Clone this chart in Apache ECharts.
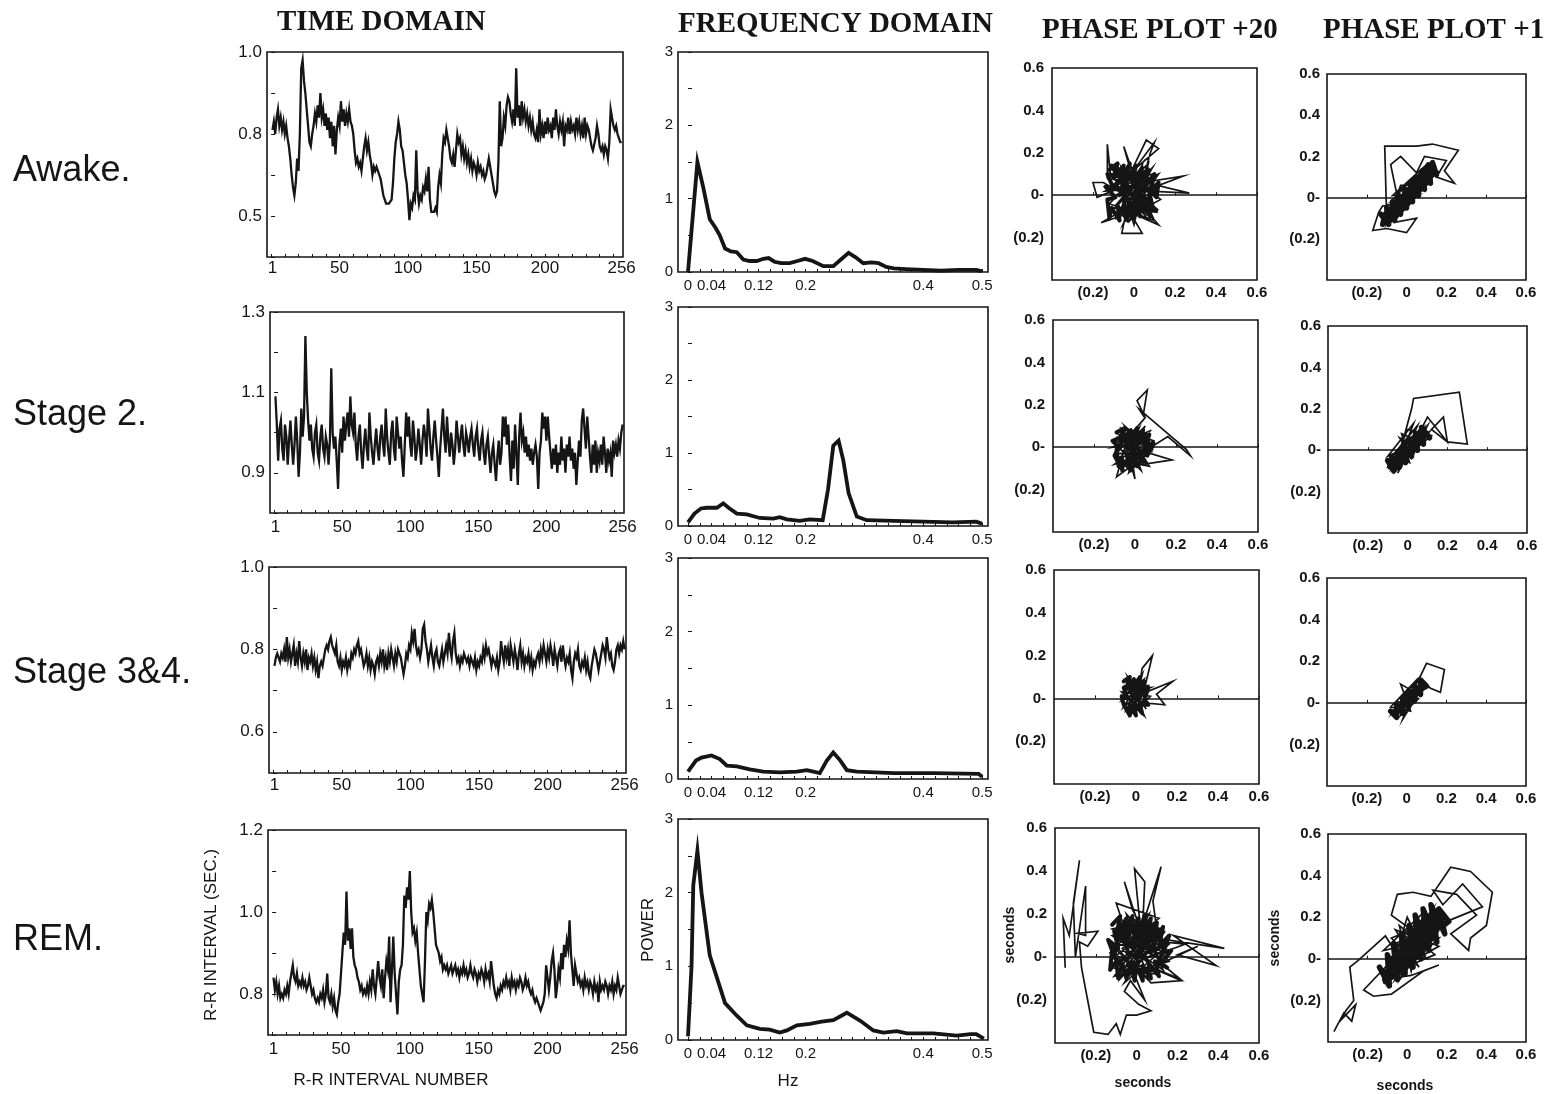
<!DOCTYPE html>
<html>
<head>
<meta charset="utf-8">
<script src="https://cdn.jsdelivr.net/npm/echarts@6/dist/echarts.min.js"></script>
<style>
  html, body { margin: 0; padding: 0; background: #fff; }
  #chart { width: 1545px; height: 1094px; }
</style>
</head>
<body>
<div id="chart"></div>
<script>
// ---- data ----
const ROW_NAMES = ['Awake.', 'Stage 2.', 'Stage 3&4.', 'REM.'];
const HEADERS = ['TIME DOMAIN', 'FREQUENCY DOMAIN', 'PHASE PLOT +20', 'PHASE PLOT +1'];

// R-R interval number ticks
const INDEX_TICKS = [1, 50, 100, 150, 200, 256];

// R-R intervals (sec), 256 beats per stage
const awakeRR = [
  0.81,0.83,0.80,0.84,0.86,0.82,0.84,0.81,0.83,0.80,0.82,0.79,0.77,0.74,0.70,0.67,
  0.65,0.68,0.74,0.71,0.80,0.96,0.98,0.93,0.90,0.86,0.82,0.78,0.77,0.80,0.82,0.85,
  0.83,0.87,0.84,0.90,0.84,0.86,0.82,0.85,0.81,0.84,0.79,0.83,0.77,0.82,0.75,0.81,
  0.84,0.82,0.88,0.83,0.86,0.82,0.85,0.83,0.86,0.83,0.82,0.80,0.76,0.73,0.74,0.72,
  0.73,0.71,0.74,0.77,0.79,0.76,0.78,0.75,0.73,0.70,0.72,0.71,0.72,0.71,0.70,0.69,
  0.67,0.65,0.64,0.63,0.63,0.63,0.63,0.64,0.68,0.74,0.78,0.80,0.83,0.81,0.77,0.76,
  0.73,0.70,0.68,0.64,0.59,0.63,0.62,0.65,0.64,0.76,0.66,0.63,0.65,0.64,0.67,0.66,
  0.69,0.66,0.72,0.64,0.61,0.61,0.61,0.62,0.61,0.67,0.70,0.68,0.75,0.79,0.78,0.81,
  0.81,0.77,0.74,0.73,0.75,0.72,0.76,0.80,0.78,0.79,0.75,0.77,0.74,0.76,0.73,0.75,
  0.72,0.74,0.71,0.73,0.72,0.70,0.73,0.71,0.72,0.70,0.71,0.69,0.70,0.72,0.74,0.72,
  0.70,0.68,0.66,0.65,0.66,0.73,0.88,0.77,0.79,0.84,0.82,0.87,0.89,0.88,0.85,0.83,
  0.86,0.82,0.96,0.84,0.87,0.82,0.88,0.84,0.86,0.83,0.85,0.82,0.84,0.81,0.83,0.80,
  0.79,0.81,0.78,0.86,0.80,0.82,0.79,0.83,0.80,0.84,0.81,0.82,0.79,0.84,0.81,0.86,
  0.82,0.80,0.83,0.81,0.83,0.77,0.82,0.81,0.84,0.80,0.83,0.81,0.82,0.80,0.84,0.81,
  0.83,0.80,0.82,0.79,0.84,0.80,0.82,0.81,0.79,0.77,0.76,0.76,0.79,0.82,0.80,0.77,
  0.76,0.77,0.75,0.77,0.76,0.74,0.78,0.86,0.84,0.82,0.81,0.82,0.80,0.79,0.78,0.78
];
const stage2RR = [
  1.09,1.02,0.93,1.01,1.03,0.96,0.93,1.02,0.99,0.92,0.98,1.03,0.97,0.92,0.97,1.04,
  0.98,0.89,0.95,1.06,0.99,1.04,1.24,1.10,1.03,0.98,1.02,0.96,0.94,1.00,1.02,0.95,
  0.93,0.99,1.02,0.96,0.94,0.99,0.97,0.92,0.98,1.16,1.00,0.96,0.99,0.93,0.86,0.97,
  1.01,0.95,1.04,0.98,1.02,1.05,0.99,1.09,1.02,1.00,1.05,0.97,0.93,0.99,1.02,0.95,
  0.91,0.97,1.01,0.96,0.93,1.05,0.99,0.95,0.92,0.97,1.01,0.96,0.93,0.99,1.02,0.97,
  0.94,1.06,0.99,0.95,0.92,1.00,1.03,0.96,0.93,1.04,1.00,0.96,0.99,0.93,0.89,0.97,
  1.05,0.99,1.04,0.97,0.94,1.03,0.99,0.93,0.96,1.01,0.97,0.92,0.98,1.02,0.99,0.94,
  1.06,1.01,0.96,0.93,0.99,1.03,0.98,0.94,0.89,0.96,1.01,1.06,0.99,0.95,1.04,0.98,
  0.94,1.00,0.97,0.92,0.96,1.03,0.99,0.95,0.99,1.02,0.97,0.94,1.00,0.98,0.95,0.99,
  1.01,0.97,0.94,0.99,1.01,0.96,0.93,0.98,1.00,0.95,0.92,0.97,0.99,0.94,0.90,0.95,
  0.97,0.92,0.88,0.94,0.98,0.92,0.95,1.04,0.99,1.04,0.97,1.02,0.94,0.88,0.98,0.91,
  1.02,0.95,0.87,0.99,1.05,0.98,1.00,0.95,0.99,0.94,0.97,0.93,0.96,0.92,0.95,0.97,
  0.94,0.86,0.95,0.98,1.05,1.01,1.04,0.98,1.04,0.99,0.95,0.91,0.96,0.92,0.97,0.90,
  0.95,0.92,0.99,0.93,0.96,0.90,0.97,0.94,0.99,0.93,0.96,0.91,0.95,0.87,0.93,0.98,
  0.94,1.03,1.06,1.01,0.96,1.04,0.99,0.94,0.90,0.97,0.92,0.98,0.90,0.95,0.93,0.97,
  0.92,0.99,0.95,0.90,0.96,0.93,0.95,0.89,0.98,0.95,0.97,0.94,0.98,0.96,1.00,1.02
];
const stage34RR = [
  0.76,0.78,0.79,0.78,0.77,0.79,0.78,0.80,0.77,0.83,0.78,0.80,0.77,0.79,0.81,0.76,
  0.79,0.77,0.82,0.78,0.76,0.79,0.77,0.80,0.75,0.78,0.77,0.79,0.76,0.78,0.75,0.77,
  0.73,0.76,0.77,0.76,0.78,0.80,0.81,0.80,0.82,0.83,0.81,0.80,0.79,0.81,0.77,0.76,
  0.78,0.75,0.77,0.76,0.78,0.75,0.77,0.76,0.79,0.78,0.80,0.79,0.81,0.82,0.79,0.80,
  0.78,0.76,0.77,0.79,0.76,0.78,0.75,0.77,0.76,0.74,0.77,0.78,0.76,0.79,0.77,0.80,
  0.76,0.78,0.75,0.79,0.77,0.80,0.78,0.76,0.79,0.77,0.80,0.79,0.78,0.76,0.74,0.76,
  0.79,0.78,0.81,0.80,0.84,0.82,0.85,0.81,0.79,0.80,0.78,0.80,0.85,0.86,0.82,0.80,
  0.77,0.79,0.81,0.78,0.76,0.79,0.80,0.77,0.76,0.78,0.80,0.77,0.79,0.81,0.79,0.84,
  0.80,0.78,0.82,0.84,0.79,0.77,0.78,0.76,0.78,0.77,0.79,0.78,0.77,0.78,0.76,0.78,
  0.77,0.76,0.78,0.75,0.77,0.76,0.78,0.77,0.80,0.78,0.81,0.79,0.80,0.78,0.76,0.78,
  0.77,0.76,0.78,0.75,0.77,0.82,0.79,0.77,0.81,0.78,0.80,0.76,0.81,0.79,0.77,0.80,
  0.78,0.75,0.79,0.81,0.77,0.79,0.76,0.78,0.77,0.79,0.76,0.78,0.75,0.77,0.76,0.78,
  0.79,0.77,0.80,0.78,0.81,0.79,0.77,0.80,0.78,0.81,0.79,0.76,0.80,0.78,0.76,0.79,
  0.80,0.77,0.81,0.78,0.76,0.78,0.77,0.79,0.75,0.73,0.77,0.79,0.78,0.80,0.76,0.75,
  0.77,0.76,0.78,0.75,0.77,0.74,0.73,0.76,0.78,0.80,0.79,0.77,0.75,0.77,0.79,0.81,
  0.80,0.78,0.83,0.80,0.78,0.79,0.76,0.75,0.77,0.80,0.81,0.79,0.81,0.80,0.82,0.80
];
const remRR = [
  0.84,0.81,0.83,0.80,0.82,0.79,0.80,0.79,0.81,0.80,0.82,0.80,0.83,0.85,0.87,0.84,
  0.83,0.85,0.82,0.83,0.82,0.84,0.82,0.83,0.81,0.82,0.84,0.82,0.80,0.81,0.79,0.78,
  0.79,0.78,0.80,0.79,0.81,0.78,0.80,0.85,0.79,0.78,0.80,0.77,0.79,0.76,0.75,0.78,
  0.80,0.85,0.90,0.95,0.92,1.05,0.93,0.96,0.91,0.96,0.89,0.87,0.86,0.84,0.83,0.81,
  0.82,0.80,0.81,0.80,0.82,0.80,0.83,0.81,0.86,0.82,0.80,0.84,0.88,0.84,0.82,0.86,
  0.79,0.84,0.88,0.86,0.94,0.78,0.86,0.94,0.85,0.80,0.75,0.83,0.86,0.87,0.92,1.04,
  1.01,1.06,1.03,1.10,1.00,0.95,0.96,0.93,0.95,0.90,0.86,0.82,0.80,0.78,0.88,1.00,
  0.98,1.02,1.01,1.03,1.00,0.96,0.92,0.91,0.90,0.88,0.89,0.86,0.87,0.86,0.87,0.85,
  0.86,0.87,0.85,0.86,0.87,0.85,0.86,0.84,0.86,0.85,0.87,0.85,0.86,0.84,0.85,0.87,
  0.85,0.84,0.86,0.85,0.83,0.85,0.84,0.86,0.85,0.83,0.86,0.84,0.85,0.83,0.88,0.85,
  0.82,0.80,0.79,0.81,0.80,0.82,0.81,0.83,0.82,0.84,0.82,0.83,0.81,0.84,0.82,0.83,
  0.81,0.83,0.82,0.84,0.83,0.81,0.82,0.84,0.82,0.83,0.81,0.80,0.81,0.79,0.78,0.79,
  0.78,0.77,0.76,0.77,0.78,0.80,0.87,0.84,0.81,0.84,0.88,0.90,0.86,0.79,0.82,0.86,
  0.84,0.90,0.86,0.92,0.89,0.93,0.91,0.98,0.90,0.86,0.82,0.87,0.85,0.83,0.84,0.82,
  0.83,0.81,0.84,0.82,0.83,0.81,0.83,0.82,0.80,0.83,0.81,0.82,0.78,0.83,0.81,0.82,
  0.81,0.83,0.82,0.80,0.82,0.81,0.83,0.80,0.82,0.81,0.84,0.82,0.80,0.81,0.82,0.82
];

// time-domain y ticks: positions and the text printed there
const awakeYTicks = [1.0, 0.8, 0.6];   const awakeYLabels = ['1.0', '0.8', '0.5'];
const stage2YTicks = [1.3, 1.1, 0.9];  const stage2YLabels = ['1.3', '1.1', '0.9'];
const stage34YTicks = [1.0, 0.8, 0.6]; const stage34YLabels = ['1.0', '0.8', '0.6'];
const remYTicks = [1.2, 1.0, 0.8];     const remYLabels = ['1.2', '1.0', '0.8'];

// spectra: [Hz, power]
const FREQ_TICKS = [0, 0.04, 0.12, 0.2, 0.4, 0.5];
const POWER_TICKS = [0, 1, 2, 3];
const awakeSpectrum = [[0,0],[0.016,1.5],[0.026,1.15],[0.037,0.72],[0.047,0.6],[0.054,0.5],[0.063,0.32],[0.073,0.28],[0.083,0.27],[0.094,0.17],[0.105,0.15],[0.117,0.15],[0.128,0.18],[0.137,0.19],[0.147,0.14],[0.158,0.12],[0.173,0.12],[0.186,0.15],[0.199,0.18],[0.212,0.15],[0.23,0.08],[0.247,0.08],[0.26,0.17],[0.273,0.26],[0.285,0.2],[0.298,0.12],[0.312,0.13],[0.324,0.12],[0.337,0.07],[0.35,0.05],[0.37,0.04],[0.4,0.03],[0.43,0.02],[0.46,0.03],[0.49,0.03],[0.5,0.01]];
const stage2Spectrum = [[0,0.05],[0.011,0.17],[0.022,0.24],[0.032,0.25],[0.049,0.25],[0.06,0.31],[0.069,0.25],[0.083,0.17],[0.1,0.16],[0.122,0.11],[0.145,0.1],[0.156,0.12],[0.168,0.09],[0.19,0.07],[0.207,0.09],[0.229,0.08],[0.238,0.5],[0.247,1.1],[0.256,1.17],[0.264,0.9],[0.273,0.45],[0.287,0.13],[0.304,0.08],[0.35,0.07],[0.4,0.06],[0.45,0.05],[0.49,0.06],[0.5,0.03]];
const stage34Spectrum = [[0,0.1],[0.0135,0.25],[0.023,0.29],[0.04,0.32],[0.054,0.27],[0.066,0.18],[0.083,0.17],[0.105,0.13],[0.128,0.1],[0.156,0.09],[0.185,0.1],[0.202,0.12],[0.213,0.1],[0.224,0.08],[0.236,0.25],[0.247,0.36],[0.259,0.25],[0.27,0.12],[0.287,0.1],[0.35,0.08],[0.42,0.08],[0.494,0.07],[0.5,0.03]];
const remSpectrum = [[0,0.05],[0.006,1.0],[0.009,2.1],[0.016,2.57],[0.023,2.0],[0.032,1.45],[0.037,1.15],[0.049,0.85],[0.063,0.5],[0.083,0.33],[0.1,0.2],[0.122,0.15],[0.139,0.14],[0.156,0.1],[0.168,0.13],[0.185,0.2],[0.207,0.22],[0.227,0.25],[0.247,0.27],[0.27,0.37],[0.293,0.26],[0.315,0.13],[0.332,0.1],[0.355,0.12],[0.372,0.09],[0.417,0.09],[0.457,0.06],[0.48,0.08],[0.49,0.08],[0.503,0.02]];

// phase plots: [x, y] in seconds (outer excursions, then the dense core)
const PHASE_X_TICKS = [-0.2, 0, 0.2, 0.4, 0.6];
const PHASE_X_LABELS = ['(0.2)', '0', '0.2', '0.4', '0.6'];
const PHASE_Y_TICKS = [0.6, 0.4, 0.2, 0, -0.2];
const PHASE_Y_LABELS = ['0.6', '0.4', '0.2', '0-', '(0.2)'];

const awakeLag20 = [[-0.05,0.02],[0.08,-0.06],[-0.12,0.10],[0.10,0.08],[-0.08,-0.10],[0.04,0.14],[-0.02,-0.12],[0.12,0.04],[-0.14,0.02],[0.06,0.12],[-0.10,-0.06],[0.11,-0.08],[-0.06,0.13],[0.02,-0.09],[-0.13,0.08],[-0.13,0.24],[-0.11,0.05],[0.09,0.10],[-0.04,-0.11],[0.13,-0.02],[-0.09,0.14],[0.00,-0.14],[0.07,0.15],[-0.12,-0.04],[0.10,-0.12],[-0.03,0.16],[-0.05,0.23],[-0.01,0.12],[0.06,0.26],[0.12,0.22],[0.00,0.12],[0.10,0.25],[0.08,0.20],[0.04,0.06],[0.24,0.09],[0.05,0.02],[0.27,0.01],[0.10,0.05],[-0.07,-0.08],[-0.16,-0.13],[-0.04,-0.09],[-0.06,-0.18],[0.04,-0.18],[-0.02,-0.08],[0.12,-0.14],[0.03,-0.04],[-0.15,0.06],[-0.20,0.06],[-0.18,-0.01],[-0.08,0.03],[0.06,-0.10],[-0.10,0.12],[0.11,0.01],[-0.07,-0.03],[0.03,0.10],[-0.12,-0.09],[0.09,0.13],[-0.02,-0.06],[0.08,-0.03],[-0.09,0.07],[0.05,0.09],[-0.05,-0.13],[0.12,0.10],[-0.11,-0.01],[0.02,0.04]];
const awakeLag20Core = [[-0.12,0.12],[-0.08,0.15],[-0.10,0.08],[-0.05,0.14],[-0.07,0.06],[-0.02,0.15],[-0.04,0.07],[0.01,0.14],[-0.01,0.06],[0.04,0.13],[0.02,0.05],[0.07,0.12],[0.05,0.04],[0.10,0.10],[0.08,0.02],[0.12,0.06],[0.11,-0.01],[0.07,0.03],[0.09,-0.05],[0.04,0.0],[0.06,-0.07],[0.01,-0.02],[0.03,-0.10],[-0.02,-0.03],[0.0,-0.11],[-0.05,-0.04],[-0.03,-0.12],[-0.08,-0.05],[-0.07,-0.12],[-0.11,-0.06],[-0.12,-0.11],[-0.13,-0.02],[-0.09,-0.01],[-0.14,0.04],[-0.10,0.03],[-0.13,0.10],[-0.08,0.09],[-0.11,0.14],[-0.06,0.10],[-0.03,0.03],[-0.07,0.0],[-0.02,0.09],[0.03,0.08],[0.0,0.0],[0.05,0.09],[0.08,0.07],[0.03,0.02],[0.10,0.03],[0.06,-0.03],[0.11,-0.07],[0.02,-0.06],[-0.01,-0.08],[-0.06,-0.08],[-0.04,-0.01],[-0.09,0.05],[-0.04,0.11],[0.02,0.10],[0.0,0.04],[-0.06,0.04],[0.04,-0.04],[0.08,-0.10],[-0.02,0.01]];
const stage2Lag20 = [[-0.02,0.0],[0.06,-0.08],[-0.08,0.06],[0.07,0.05],[-0.06,-0.10],[0.02,0.09],[-0.09,-0.03],[0.08,-0.02],[-0.04,0.08],[0.03,-0.11],[-0.10,0.02],[0.06,0.07],[-0.05,-0.07],[0.09,0.03],[-0.07,0.09],[0.00,-0.15],[-0.03,0.05],[0.05,0.14],[0.01,0.22],[0.06,0.27],[0.04,0.15],[0.02,0.18],[0.25,-0.01],[0.27,-0.04],[0.16,0.05],[0.03,-0.03],[-0.09,0.05],[0.05,-0.06],[-0.06,0.01],[0.18,-0.06],[-0.02,-0.09],[-0.09,-0.14],[-0.04,0.03],[0.08,0.08],[-0.11,0.00],[0.04,0.02],[-0.05,0.10],[0.07,-0.09],[-0.08,-0.06],[0.02,0.06],[-0.03,-0.12],[0.09,0.00],[-0.07,0.07],[0.01,-0.05],[-0.10,-0.08],[0.06,0.04],[-0.02,0.08],[0.03,-0.08],[-0.06,-0.02],[0.05,0.10],[-0.04,-0.05],[0.00,0.03]];
const stage2Lag20Core = [[-0.09,0.07],[-0.05,0.09],[-0.07,0.03],[-0.02,0.08],[-0.04,0.02],[0.01,0.09],[-0.01,0.03],[0.04,0.08],[0.02,0.02],[0.07,0.06],[0.05,0.0],[0.09,0.02],[0.06,-0.04],[0.02,-0.01],[0.04,-0.07],[-0.01,-0.03],[0.01,-0.09],[-0.04,-0.04],[-0.02,-0.11],[-0.07,-0.05],[-0.06,-0.11],[-0.10,-0.04],[-0.08,0.0],[-0.11,0.03],[-0.06,0.05],[-0.03,-0.01],[0.0,0.05],[0.03,0.04],[0.06,0.03],[0.03,-0.04],[0.0,-0.06],[-0.05,-0.08],[-0.08,-0.09],[-0.09,-0.01],[-0.04,0.06],[0.02,0.07],[0.05,0.06],[0.08,-0.01],[0.04,-0.02],[-0.02,0.0]];
const stage34Lag20 = [[0.0,0.02],[0.05,-0.05],[-0.05,0.08],[0.06,0.06],[-0.06,-0.04],[0.03,0.11],[-0.02,-0.07],[0.07,0.01],[-0.07,0.03],[0.04,-0.08],[-0.04,0.10],[0.06,-0.02],[-0.05,-0.06],[0.02,0.08],[0.03,0.14],[0.08,0.20],[0.06,0.12],[0.04,0.04],[-0.06,0.06],[0.05,0.03],[0.18,0.08],[0.10,0.02],[0.14,-0.03],[0.03,-0.02],[-0.03,-0.08],[0.00,0.07],[-0.07,-0.01],[0.07,0.05],[-0.03,0.04],[0.02,-0.06],[-0.05,0.02],[0.04,0.09],[-0.01,-0.04],[0.05,0.00],[-0.04,0.07],[0.01,0.01]];
const stage34Lag20Core = [[-0.06,0.08],[-0.03,0.10],[-0.05,0.04],[-0.01,0.09],[-0.03,0.03],[0.02,0.10],[0.0,0.03],[0.04,0.08],[0.02,0.02],[0.06,0.05],[0.04,-0.01],[0.06,-0.03],[0.02,-0.03],[0.03,-0.07],[-0.01,-0.02],[0.0,-0.08],[-0.03,-0.03],[-0.03,-0.08],[-0.06,-0.03],[-0.07,0.01],[-0.04,0.0],[-0.06,0.05],[-0.02,0.05],[0.01,0.06],[0.04,0.04],[0.01,-0.01],[-0.02,0.01]];
const remLag20 = [[-0.35,-0.05],[-0.36,0.18],[-0.33,0.10],[-0.28,0.45],[-0.31,0.25],[-0.30,0.0],[-0.25,0.33],[-0.25,0.10],[-0.29,0.11],[-0.19,0.12],[-0.24,0.05],[-0.28,0.07],[-0.27,-0.05],[-0.24,-0.20],[-0.21,-0.35],[-0.14,-0.36],[-0.10,-0.31],[-0.08,-0.36],[-0.05,-0.27],[0.0,-0.27],[0.07,-0.25],[0.01,-0.22],[-0.06,-0.16],[-0.03,-0.11],[0.04,-0.20],[-0.02,-0.06],[0.12,0.10],[-0.12,-0.05],[0.10,-0.08],[-0.08,0.16],[0.14,0.04],[-0.13,0.06],[0.06,-0.11],[-0.05,0.20],[0.16,-0.02],[-0.11,-0.09],[0.08,0.15],[-0.12,0.10],[0.13,-0.06],[-0.02,0.22],[-0.06,0.35],[0.02,0.12],[-0.01,0.41],[0.04,0.35],[0.03,0.15],[0.12,0.42],[0.08,0.26],[0.10,0.12],[-0.09,-0.02],[0.15,0.08],[0.43,0.04],[0.18,0.10],[0.39,-0.04],[0.20,0.01],[0.30,0.05],[0.12,-0.03],[0.21,-0.10],[0.05,-0.04],[0.22,-0.11],[0.07,-0.12],[-0.07,0.04],[0.11,0.18],[-0.10,0.25],[-0.04,0.08],[0.09,-0.07],[-0.13,0.02],[0.06,0.20],[-0.08,-0.10],[0.14,0.12],[-0.03,-0.08],[0.05,0.17],[-0.12,0.13],[0.10,0.02],[-0.06,-0.05],[0.08,0.09],[-0.10,0.05],[0.02,-0.09],[-0.04,0.14],[0.12,-0.01],[-0.09,0.09],[0.04,0.04],[-0.06,-0.12],[0.16,0.06],[-0.02,0.18],[0.07,-0.06],[-0.11,0.00],[0.09,0.14],[-0.05,0.10],[0.01,-0.02],[0.24,0.06],[0.03,0.08]];
const remLag20Core = [[-0.12,0.15],[-0.08,0.19],[-0.10,0.10],[-0.05,0.18],[-0.08,0.08],[-0.02,0.19],[-0.05,0.09],[0.01,0.18],[-0.01,0.08],[0.04,0.19],[0.02,0.09],[0.07,0.18],[0.05,0.08],[0.10,0.16],[0.08,0.07],[0.13,0.14],[0.11,0.05],[0.16,0.10],[0.13,0.02],[0.17,0.03],[0.12,-0.03],[0.15,-0.05],[0.09,-0.02],[0.11,-0.09],[0.06,-0.03],[0.07,-0.10],[0.03,-0.04],[0.03,-0.11],[0.0,-0.04],[-0.01,-0.11],[-0.03,-0.03],[-0.05,-0.10],[-0.07,-0.03],[-0.09,-0.10],[-0.10,-0.02],[-0.13,-0.06],[-0.12,0.03],[-0.14,0.08],[-0.09,0.04],[-0.11,0.12],[-0.06,0.13],[-0.03,0.05],[0.0,0.13],[0.02,0.03],[0.05,0.13],[0.07,0.02],[0.10,0.10],[0.12,0.08],[0.08,0.12],[0.04,0.05],[0.0,0.0],[-0.04,0.02],[-0.07,0.10],[-0.02,0.14],[0.03,0.15],[0.06,0.05],[0.09,0.03],[0.14,0.06],[0.10,-0.05],[0.05,-0.07],[-0.02,-0.07],[-0.06,-0.06],[-0.11,0.00],[-0.08,0.14],[0.06,0.16],[0.12,0.12]];

const awakeLag1 = [[-0.10,-0.10],[-0.11,0.25],[0.05,0.25],[0.13,0.26],[0.26,0.23],[0.19,0.13],[0.24,0.07],[0.15,0.10],[0.20,0.18],[0.09,0.20],[0.05,0.12],[-0.03,0.20],[-0.08,0.16],[-0.05,0.02],[0.10,0.14],[0.02,-0.02],[-0.12,-0.04],[-0.14,-0.07],[-0.17,-0.16],[-0.10,-0.15],[0.0,-0.17],[0.05,-0.10],[-0.06,-0.12],[0.04,0.06],[-0.09,-0.06],[0.08,0.12],[-0.04,-0.09],[0.12,0.08],[-0.02,0.04],[0.06,0.02],[-0.07,0.01],[0.10,0.16],[-0.11,-0.11],[0.03,0.08],[-0.05,-0.03],[0.14,0.12],[-0.08,-0.09],[0.07,0.10],[-0.12,-0.08],[0.01,-0.04],[0.09,0.06],[-0.03,0.06],[-0.10,-0.13],[0.05,0.05],[-0.06,-0.06],[0.11,0.14],[-0.01,-0.01],[0.04,0.10],[-0.08,-0.02],[0.08,0.04],[-0.04,0.0],[0.13,0.16],[-0.09,-0.12],[0.02,0.02],[0.16,0.13],[-0.02,-0.06],[0.06,0.08]];
const awakeLag1Core = [[-0.13,-0.08],[-0.09,-0.13],[-0.10,-0.05],[-0.06,-0.11],[-0.07,-0.02],[-0.03,-0.08],[-0.04,0.01],[0.0,-0.05],[-0.01,0.04],[0.03,-0.02],[0.02,0.07],[0.06,0.01],[0.05,0.10],[0.09,0.04],[0.08,0.13],[0.12,0.07],[0.11,0.16],[0.15,0.11],[0.13,0.17],[0.10,0.09],[0.07,0.11],[0.07,0.05],[0.04,0.07],[0.04,0.02],[0.01,0.03],[0.01,-0.02],[-0.02,0.0],[-0.02,-0.05],[-0.05,-0.03],[-0.05,-0.08],[-0.08,-0.06],[-0.08,-0.11],[-0.11,-0.09],[-0.12,-0.13],[-0.10,-0.10],[-0.06,-0.05],[-0.03,-0.02],[0.0,0.01],[0.03,0.04],[0.06,0.07],[0.09,0.10],[0.12,0.12],[0.10,0.14],[0.05,0.06],[0.0,-0.01],[-0.05,-0.06],[-0.09,-0.08]];
const stage2Lag1 = [[-0.05,-0.05],[0.02,0.20],[0.03,0.25],[0.26,0.28],[0.30,0.03],[0.20,0.04],[0.12,0.10],[0.18,0.16],[0.20,0.04],[0.10,0.16],[0.04,0.05],[-0.08,-0.06],[0.06,0.10],[-0.04,-0.08],[0.09,0.06],[-0.10,-0.03],[0.03,0.13],[-0.06,-0.10],[0.11,0.09],[-0.02,0.02],[-0.09,-0.07],[0.07,0.04],[-0.03,0.08],[0.01,-0.06],[-0.07,-0.02],[0.05,0.12],[-0.05,-0.11],[0.08,0.11],[-0.01,0.04],[-0.08,-0.09],[0.12,0.07],[0.0,0.10],[-0.06,-0.04],[0.04,0.01],[-0.04,0.06],[0.02,-0.04],[0.10,0.12],[-0.07,-0.07],[0.06,0.07],[-0.02,-0.02]];
const stage2Lag1Core = [[-0.10,-0.05],[-0.07,-0.10],[-0.08,-0.03],[-0.04,-0.08],[-0.05,-0.01],[-0.01,-0.06],[-0.02,0.02],[0.02,-0.03],[0.01,0.05],[0.05,0.0],[0.04,0.08],[0.08,0.03],[0.07,0.11],[0.11,0.06],[0.09,0.08],[0.06,0.05],[0.03,0.03],[0.0,0.0],[-0.03,-0.03],[-0.06,-0.06],[-0.09,-0.08],[-0.07,-0.04],[-0.04,-0.04],[-0.01,0.0],[0.02,0.01],[0.05,0.05],[0.08,0.08],[0.04,0.03],[-0.02,-0.04],[-0.06,-0.08]];
const stage34Lag1 = [[0.0,0.0],[0.07,0.13],[0.10,0.19],[0.19,0.16],[0.17,0.05],[0.12,0.07],[0.08,0.10],[-0.05,-0.03],[0.04,0.08],[-0.07,-0.05],[0.06,0.04],[-0.03,0.09],[0.02,-0.04],[-0.08,-0.02],[0.05,0.11],[-0.02,-0.08],[0.09,0.09],[-0.04,0.02],[0.03,0.06],[-0.06,-0.06],[0.07,0.07],[-0.01,0.04],[0.01,-0.02],[-0.05,0.01],[0.04,0.09],[-0.03,-0.06],[0.06,0.02],[0.0,0.05]];
const stage34Lag1Core = [[-0.08,-0.04],[-0.05,-0.07],[-0.05,-0.01],[-0.02,-0.05],[-0.02,0.02],[0.01,-0.02],[0.01,0.05],[0.04,0.01],[0.04,0.08],[0.07,0.04],[0.07,0.11],[0.10,0.08],[0.08,0.07],[0.05,0.05],[0.02,0.02],[-0.01,-0.01],[-0.04,-0.04],[-0.07,-0.05],[-0.03,-0.02],[0.0,0.01],[0.03,0.04],[0.06,0.07]];
const remLag1 = [[-0.37,-0.35],[-0.32,-0.26],[-0.28,-0.30],[-0.26,-0.22],[-0.34,-0.30],[-0.31,-0.25],[-0.27,-0.20],[-0.29,-0.04],[-0.25,-0.01],[-0.18,0.05],[-0.11,0.11],[-0.05,0.02],[-0.22,-0.15],[-0.17,-0.18],[-0.08,-0.17],[0.08,-0.06],[0.16,-0.03],[0.02,-0.08],[-0.12,-0.10],[0.05,0.12],[-0.08,0.21],[-0.05,0.31],[0.03,0.32],[0.12,0.30],[0.22,0.44],[0.32,0.42],[0.43,0.32],[0.40,0.16],[0.32,0.10],[0.31,0.04],[0.22,0.12],[0.35,0.21],[0.25,0.31],[0.13,0.33],[0.18,0.26],[0.28,0.36],[0.38,0.25],[0.20,0.18],[-0.10,-0.02],[0.12,0.20],[-0.06,-0.10],[0.16,0.10],[-0.12,0.04],[0.08,0.22],[0.02,-0.06],[-0.04,0.16],[0.14,0.02],[-0.11,-0.08],[0.10,0.16],[-0.02,0.08],[0.06,-0.04],[-0.08,0.10],[0.18,0.20],[-0.05,-0.05],[0.04,0.18],[0.12,0.06],[-0.09,0.00],[0.07,0.13],[-0.03,-0.09],[0.15,0.15],[-0.07,0.07],[0.09,0.02],[0.00,0.20],[-0.10,-0.12],[0.11,0.11],[0.02,0.02],[-0.06,0.14],[0.16,0.06],[-0.01,-0.03],[0.08,0.18],[-0.11,-0.04],[0.05,0.08],[0.13,0.24],[-0.04,0.03],[0.10,0.00],[-0.02,0.12],[0.06,0.05]];
const remLag1Core = [[-0.14,-0.04],[-0.09,-0.13],[-0.10,0.02],[-0.05,-0.10],[-0.07,0.07],[-0.01,-0.07],[-0.03,0.12],[0.03,-0.04],[0.01,0.16],[0.07,0.0],[0.04,0.21],[0.11,0.04],[0.08,0.24],[0.15,0.08],[0.12,0.26],[0.19,0.12],[0.16,0.24],[0.21,0.18],[0.17,0.15],[0.13,0.18],[0.12,0.10],[0.08,0.15],[0.08,0.06],[0.04,0.11],[0.04,0.02],[0.0,0.07],[0.0,-0.02],[-0.04,0.03],[-0.04,-0.06],[-0.08,-0.01],[-0.08,-0.09],[-0.12,-0.06],[-0.11,-0.11],[-0.06,-0.04],[-0.02,0.0],[0.02,0.05],[0.06,0.10],[0.10,0.14],[0.14,0.20],[0.10,0.20],[0.06,0.16],[0.02,0.10],[-0.02,0.05],[-0.06,0.01],[0.02,-0.01],[0.06,0.03],[0.10,0.07],[0.14,0.12],[0.18,0.20]];

// ---- layout ----
const INK = '#151515';
const SANS = '"Liberation Sans", Arial, sans-serif';
const SERIF = '"Liberation Serif", "Times New Roman", serif';

const TIME_BOX  = [[267, 52, 623, 257], [270, 312, 624, 513], [269, 567, 626, 773], [268, 830, 626, 1035]];
const FREQ_BOX  = [[678, 52, 988, 272], [678, 307, 988, 526], [678, 558, 988, 779], [678, 819, 988, 1040]];
const LAG20_BOX = [[1052, 68, 1257, 280], [1053, 320, 1258, 532], [1054, 570, 1259, 784], [1055, 828, 1259, 1043]];
const LAG1_BOX  = [[1327, 74, 1526, 280], [1328, 326, 1527, 533], [1327, 578, 1526, 786], [1328, 834, 1526, 1042]];

const TIME_XMARGIN = [3, 6, 4, 6];

const timeRows = [
  { rr: awakeRR, min: 0.5, max: 1.0, yt: awakeYTicks, yl: awakeYLabels },
  { rr: stage2RR, min: 0.8, max: 1.3, yt: stage2YTicks, yl: stage2YLabels },
  { rr: stage34RR, min: 0.5, max: 1.0, yt: stage34YTicks, yl: stage34YLabels },
  { rr: remRR, min: 0.7, max: 1.2, yt: remYTicks, yl: remYLabels }
];
const spectra = [awakeSpectrum, stage2Spectrum, stage34Spectrum, remSpectrum];
const lag20 = [awakeLag20, stage2Lag20, stage34Lag20, remLag20];
const lag20Core = [awakeLag20Core, stage2Lag20Core, stage34Lag20Core, remLag20Core];
const lag1 = [awakeLag1, stage2Lag1, stage34Lag1, remLag1];
const lag1Core = [awakeLag1Core, stage2Lag1Core, stage34Lag1Core, remLag1Core];

const grids = [], xAxes = [], yAxes = [], series = [];

function steps(a, b, s) {
  const out = [];
  for (let v = a; v <= b + 1e-9; v += s) out.push(+v.toFixed(4));
  return out;
}
function lookup(values, texts) {
  return v => {
    const k = values.findIndex(t => Math.abs(t - v) < 1e-6);
    return k < 0 ? '' : texts[k];
  };
}
function axis(o) {
  return {
    type: 'value', gridIndex: o.grid, min: o.min, max: o.max, position: o.pos,
    axisLine: { show: false }, splitLine: { show: false },
    axisTick: { show: true, inside: true, length: o.tickLen || 4, customValues: o.ticks, lineStyle: { color: INK, width: 1 } },
    axisLabel: {
      customValues: o.labels, formatter: lookup(o.labels, o.texts),
      color: INK, fontFamily: SANS, fontSize: o.fs, fontWeight: o.fw || 'normal', margin: o.margin
    }
  };
}
function line(i, data, width, join, extra) {
  return Object.assign({ type: 'line', xAxisIndex: i, yAxisIndex: i, data, symbol: 'none', showSymbol: false,
    lineStyle: { color: INK, width, join, cap: join === 'round' ? 'round' : 'butt' }, silent: true, animation: false }, extra || {});
}
function panel(box, xa, ya, data, width, opts) {
  opts = opts || {};
  const i = grids.length;
  grids.push({ left: box[0], top: box[1], width: box[2] - box[0], height: box[3] - box[1],
    show: true, borderColor: INK, borderWidth: 1.6, backgroundColor: 'transparent', outerBoundsMode: 'none' });
  xa.grid = i; ya.grid = i;
  xAxes.push(axis(Object.assign({ pos: 'bottom' }, xa)));
  yAxes.push(axis(Object.assign({ pos: 'left' }, ya)));
  const extra = {};
  if (opts.zeroLine) {
    extra.markLine = { silent: true, symbol: 'none', animation: false, label: { show: false },
      lineStyle: { color: INK, width: 1.5, type: 'solid' }, data: [{ yAxis: 0 }] };
  }
  series.push(line(i, data, width, 'miter', extra));
  if (opts.core) series.push(line(i, opts.core, opts.coreWidth, 'round'));
}

const idxTexts = INDEX_TICKS.map(String);
const freqTexts = FREQ_TICKS.map(String);
const powTexts = POWER_TICKS.map(String);

for (let r = 0; r < 4; r++) {
  const t = timeRows[r];
  panel(TIME_BOX[r],
    { min: -3, max: 257, labels: INDEX_TICKS, texts: idxTexts, ticks: steps(0, 250, 10), tickLen: 3, fs: 17, margin: TIME_XMARGIN[r] },
    { min: t.min, max: t.max, labels: t.yt, texts: t.yl, ticks: steps(t.min, t.max, 0.1), tickLen: 4, fs: 17, margin: 5 },
    t.rr.map((v, i) => [i + 1, v]), 2.3);

  panel(FREQ_BOX[r],
    { min: -0.017, max: 0.51, labels: FREQ_TICKS, texts: freqTexts, ticks: steps(0, 0.5, 0.02), tickLen: 3, fs: 15, margin: 6 },
    { min: 0, max: 3, labels: POWER_TICKS, texts: powTexts, ticks: steps(0, 3, 0.5), tickLen: 4, fs: 15, margin: 5 },
    spectra[r], 3.8);

  panel(LAG20_BOX[r],
    { min: -0.4, max: 0.6, labels: PHASE_X_TICKS, texts: PHASE_X_LABELS, ticks: PHASE_X_TICKS, tickLen: 3, fs: 15, fw: 'bold', margin: 5 },
    { min: -0.4, max: 0.6, labels: PHASE_Y_TICKS, texts: PHASE_Y_LABELS, ticks: [], fs: 15, fw: 'bold', margin: 8 },
    lag20[r], 1.7, { zeroLine: true, core: lag20Core[r], coreWidth: 4 });

  panel(LAG1_BOX[r],
    { min: -0.4, max: 0.6, labels: PHASE_X_TICKS, texts: PHASE_X_LABELS, ticks: PHASE_X_TICKS, tickLen: 3, fs: 15, fw: 'bold', margin: 5 },
    { min: -0.4, max: 0.6, labels: PHASE_Y_TICKS, texts: PHASE_Y_LABELS, ticks: [], fs: 15, fw: 'bold', margin: 7 },
    lag1[r], 1.7, { zeroLine: true, core: lag1Core[r], coreWidth: 5.5 });
}

function txt(text, x, y, font, align, rot) {
  return { type: 'text', x, y, rotation: rot || 0, silent: true,
    style: { text, font, fill: INK, align: align || 'left', textAlign: align || 'left',
      verticalAlign: 'middle', textVerticalAlign: 'middle' } };
}
const HEAD_FONT = 'bold 29px ' + SERIF;
const ROW_FONT = '36px ' + SANS;
const ROW_Y = [171, 415, 673, 940];
const graphics = [
  txt(HEADERS[0], 277, 23, HEAD_FONT),
  txt(HEADERS[1], 678, 25, HEAD_FONT),
  txt(HEADERS[2], 1042, 31, HEAD_FONT),
  txt(HEADERS[3], 1323, 31, HEAD_FONT),
  txt('R-R INTERVAL NUMBER', 391, 1080, '17px ' + SANS, 'center'),
  txt('R-R INTERVAL (SEC.)', 211, 935, '17px ' + SANS, 'center', Math.PI / 2),
  txt('POWER', 648, 930, '17px ' + SANS, 'center', Math.PI / 2),
  txt('Hz', 788, 1081, '17px ' + SANS, 'center'),
  txt('seconds', 1143, 1083, 'bold 14px ' + SANS, 'center'),
  txt('seconds', 1405, 1086, 'bold 14px ' + SANS, 'center'),
  txt('seconds', 1010, 935, 'bold 14px ' + SANS, 'center', Math.PI / 2),
  txt('seconds', 1275, 938, 'bold 14px ' + SANS, 'center', Math.PI / 2)
];
ROW_NAMES.forEach((n, i) => graphics.push(txt(n, 13, ROW_Y[i], ROW_FONT)));

const chart = echarts.init(document.getElementById('chart'), null, { renderer: 'canvas' });
chart.setOption({
  backgroundColor: '#ffffff',
  animation: false,
  grid: grids,
  xAxis: xAxes,
  yAxis: yAxes,
  series: series,
  graphic: { elements: graphics }
});
</script>
</body>
</html>
